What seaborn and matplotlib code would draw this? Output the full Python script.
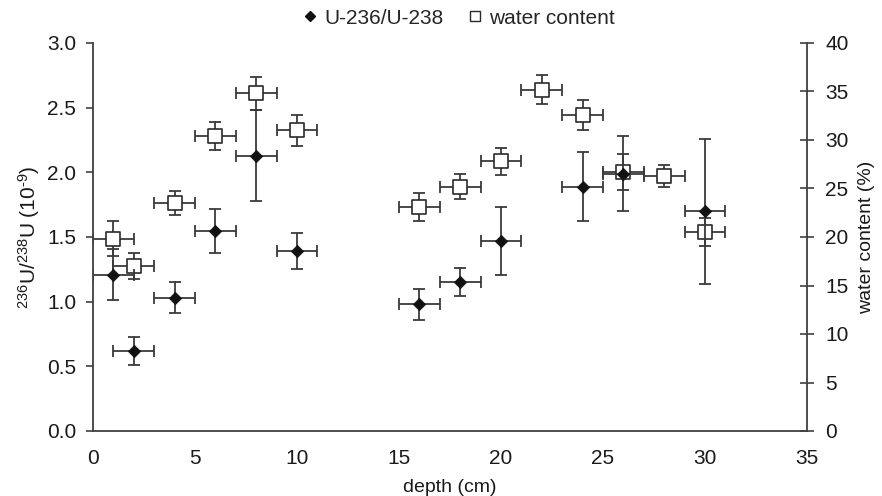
import matplotlib
matplotlib.use("Agg")
import matplotlib.pyplot as plt
from matplotlib.lines import Line2D
import seaborn as sns
import pandas as pd
import numpy as np

# U-236/U-238 ratio (10^-9)
u_depth = [1, 2, 4, 6, 8, 10, 16, 18, 20, 24, 26, 30]
u_ratio = [1.21, 0.62, 1.03, 1.55, 2.13, 1.39, 0.98, 1.15, 1.47, 1.89, 1.99, 1.70]
u_err = [0.20, 0.11, 0.12, 0.17, 0.35, 0.14, 0.12, 0.11, 0.26, 0.27, 0.29, 0.56]

# water content (%)
w_depth = [1, 2, 4, 6, 8, 10, 16, 18, 20, 22, 24, 26, 28, 30]
w_content = [19.8, 17.0, 23.5, 30.4, 34.8, 31.0, 23.1, 25.2, 27.8, 35.2, 32.6, 26.7, 26.3, 20.5]
w_err = [1.8, 1.35, 1.25, 1.45, 1.7, 1.6, 1.45, 1.3, 1.4, 1.5, 1.55, 1.9, 1.15, 1.45]

depth_err = 1.0

sns.set_style("white")
plt.rcParams['font.family'] = ['Liberation Sans', 'DejaVu Sans']
plt.rcParams['mathtext.fontset'] = 'custom'
plt.rcParams['mathtext.rm'] = 'Liberation Sans'
plt.rcParams['mathtext.it'] = 'Liberation Sans'
plt.rcParams['mathtext.default'] = 'regular'

dfu = pd.DataFrame({"depth": u_depth, "ratio": u_ratio, "err": u_err})
dfw = pd.DataFrame({"depth": w_depth, "water": w_content, "err": w_err})

fig = plt.figure(figsize=(8.82, 4.96), dpi=100)
ax = fig.add_axes([93/882, 1-431/496, (807-93)/882, (431-43)/496])
ax2 = ax.twinx()

ecol = "#3a3a3a"
ax2.errorbar(dfw["depth"], dfw["water"], yerr=dfw["err"], xerr=depth_err, fmt="none",
             ecolor=ecol, elinewidth=1.3, capsize=4, capthick=1.3, zorder=2)
sns.scatterplot(data=dfw, x="depth", y="water", ax=ax2, marker="s", s=95,
                facecolor="white", edgecolor="#2a2a2a", linewidth=1.2, zorder=3, legend=False)

ax.errorbar(dfu["depth"], dfu["ratio"], yerr=dfu["err"], xerr=depth_err, fmt="none",
            ecolor=ecol, elinewidth=1.3, capsize=4, capthick=1.3, zorder=2)
sns.scatterplot(data=dfu, x="depth", y="ratio", ax=ax, marker="D", s=40,
                color="#111111", edgecolor="#111111", linewidth=0.5, zorder=3, legend=False)

ax.set_zorder(ax2.get_zorder() + 1)
ax.patch.set_visible(False)

ax.set_xlim(0, 35)
ax.set_ylim(0, 3.0)
ax2.set_ylim(0, 40)
ax.set_xticks(np.arange(0, 36, 5))
ax.set_yticks(np.arange(0, 3.01, 0.5))
ax.set_yticklabels([f"{v:.1f}" for v in np.arange(0, 3.01, 0.5)])
ax2.set_yticks(np.arange(0, 41, 5))

spc = "#404040"
for a in (ax, ax2):
    for s in a.spines.values():
        s.set_color(spc)
        s.set_linewidth(1.3)
    a.spines["top"].set_visible(False)
ax.spines["right"].set_visible(False)
ax2.spines["left"].set_visible(False)
ax2.spines["bottom"].set_visible(False)

tfs = 15
ax.tick_params(axis="x", direction="out", length=4, width=1.2, color=spc,
               labelsize=tfs, labelcolor="#1a1a1a", pad=9)
ax.tick_params(axis="y", direction="out", length=5, width=1.2, color=spc,
               labelsize=tfs, labelcolor="#1a1a1a", pad=7, right=False)
ax2.tick_params(axis="y", direction="inout", length=10, width=1.2, color=spc,
                labelsize=tfs, labelcolor="#1a1a1a", pad=8)

ax.set_xlabel("depth (cm)", fontsize=14, color="#1a1a1a", labelpad=8)
ax.set_ylabel(r"$^{236}$U/$^{238}$U (10$^{\text{-}9}$)", fontsize=15, color="#1a1a1a", labelpad=4)
ax2.set_ylabel("water content (%)", fontsize=14, color="#1a1a1a", labelpad=7)

handles = [
    Line2D([], [], marker="D", linestyle="none", color="#111111", markersize=5.5),
    Line2D([], [], marker="s", linestyle="none", markerfacecolor="white",
           markeredgecolor="#2a2a2a", markersize=7.5, markeredgewidth=1),
]
fig.legend(handles, ["U-236/U-238", "water content"], loc="center",
           bbox_to_anchor=(457/882, 1-18/496), ncol=2, frameon=False,
           fontsize=15, handletextpad=0.2, columnspacing=1.0, handlelength=1.0)

fig.savefig("out.png", dpi=100)
